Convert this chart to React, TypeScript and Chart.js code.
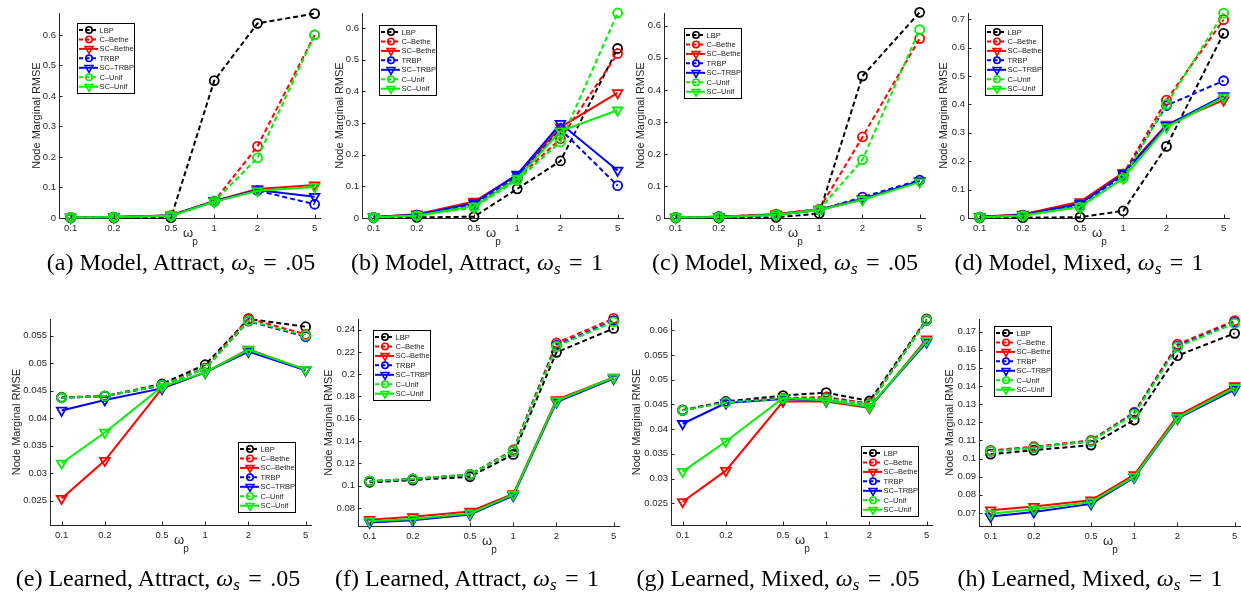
import React, { useEffect, useRef } from "react";
import { Chart, registerables } from "chart.js";
Chart.register(...registerables);

// ---------- data ----------
const omegaP = [0.1, 0.2, 0.5, 1, 2, 5];
const xTickLabels = ["0.1", "0.2", "0.5", "1", "2", "5"];
const seriesNames = ["LBP", "C\u2013Bethe", "SC\u2013Bethe", "TRBP", "SC\u2013TRBP", "C\u2013Unif", "SC\u2013Unif"];

// rows: LBP, C-Bethe, SC-Bethe, TRBP, SC-TRBP, C-Unif, SC-Unif
const modelAttract05 = [
  [0.0005, 0.0005, 0.001, 0.45, 0.638, 0.67],
  [0.002, 0.003, 0.008, 0.055, 0.235, 0.6],
  [0.002, 0.003, 0.009, 0.056, 0.095, 0.108],
  [0.002, 0.003, 0.007, 0.054, 0.09, 0.045],
  [0.002, 0.003, 0.008, 0.055, 0.092, 0.07],
  [0.002, 0.003, 0.007, 0.054, 0.197, 0.6],
  [0.002, 0.003, 0.007, 0.053, 0.089, 0.102],
];
const modelAttract1 = [
  [0.001, 0.002, 0.004, 0.092, 0.18, 0.535],
  [0.002, 0.01, 0.045, 0.125, 0.25, 0.519],
  [0.003, 0.012, 0.052, 0.135, 0.287, 0.395],
  [0.002, 0.008, 0.04, 0.13, 0.28, 0.102],
  [0.003, 0.01, 0.047, 0.138, 0.298, 0.15],
  [0.002, 0.007, 0.033, 0.119, 0.24, 0.647],
  [0.002, 0.008, 0.037, 0.125, 0.274, 0.34],
];
const modelMixed05 = [
  [0.0005, 0.0005, 0.002, 0.014, 0.443, 0.642],
  [0.002, 0.004, 0.012, 0.028, 0.253, 0.56],
  [0.002, 0.004, 0.012, 0.027, 0.06, 0.115],
  [0.002, 0.004, 0.01, 0.025, 0.065, 0.118],
  [0.002, 0.003, 0.01, 0.025, 0.058, 0.115],
  [0.002, 0.003, 0.01, 0.026, 0.182, 0.588],
  [0.002, 0.003, 0.009, 0.025, 0.057, 0.112],
];
const modelMixed1 = [
  [0.0005, 0.001, 0.003, 0.025, 0.252, 0.65],
  [0.003, 0.01, 0.05, 0.155, 0.415, 0.698],
  [0.004, 0.013, 0.057, 0.16, 0.329, 0.415],
  [0.003, 0.01, 0.045, 0.15, 0.396, 0.483],
  [0.004, 0.011, 0.05, 0.155, 0.325, 0.43],
  [0.003, 0.008, 0.038, 0.14, 0.4, 0.721],
  [0.003, 0.009, 0.04, 0.14, 0.32, 0.425],
];
const learnedAttract05 = [
  [0.0438, 0.044, 0.0462, 0.0497, 0.058, 0.0566],
  [0.0437, 0.044, 0.046, 0.0491, 0.0581, 0.0552],
  [0.0254, 0.0323, 0.0454, 0.0483, 0.0525, 0.0488],
  [0.0437, 0.044, 0.0459, 0.049, 0.0576, 0.0548],
  [0.0414, 0.0433, 0.0454, 0.0483, 0.0521, 0.0487],
  [0.0437, 0.044, 0.046, 0.049, 0.0577, 0.055],
  [0.0318, 0.0374, 0.0457, 0.0483, 0.0524, 0.0488],
];
const learnedAttract1 = [
  [0.103, 0.105, 0.108, 0.128, 0.2196, 0.241],
  [0.104, 0.106, 0.11, 0.132, 0.228, 0.25],
  [0.0695, 0.072, 0.0768, 0.0925, 0.177, 0.197],
  [0.104, 0.106, 0.11, 0.131, 0.226, 0.248],
  [0.067, 0.069, 0.074, 0.091, 0.175, 0.196],
  [0.104, 0.106, 0.11, 0.131, 0.225, 0.247],
  [0.068, 0.07, 0.075, 0.092, 0.176, 0.197],
];
const learnedMixed05 = [
  [0.0439, 0.0456, 0.0468, 0.0474, 0.0457, 0.0623],
  [0.0438, 0.0455, 0.0463, 0.0465, 0.0452, 0.0622],
  [0.0253, 0.0316, 0.0456, 0.0456, 0.0443, 0.0582],
  [0.0438, 0.0455, 0.0462, 0.0463, 0.045, 0.062],
  [0.0411, 0.0453, 0.0461, 0.0458, 0.0445, 0.0576],
  [0.0438, 0.0454, 0.0462, 0.0462, 0.045, 0.0621],
  [0.0314, 0.0375, 0.0463, 0.0458, 0.0445, 0.0579],
];
const learnedMixed1 = [
  [0.1024, 0.1046, 0.1074, 0.1212, 0.1567, 0.169],
  [0.1045, 0.1065, 0.11, 0.1255, 0.163, 0.176],
  [0.0715, 0.0735, 0.077, 0.091, 0.1235, 0.14],
  [0.104, 0.106, 0.1095, 0.125, 0.162, 0.175],
  [0.068, 0.0705, 0.075, 0.0895, 0.122, 0.138],
  [0.104, 0.106, 0.1095, 0.1245, 0.1615, 0.1745],
  [0.0695, 0.072, 0.076, 0.09, 0.1225, 0.139],
];

const yTicksModel6 = [0, 0.1, 0.2, 0.3, 0.4, 0.5, 0.6];
const yTicksModel7 = [0, 0.1, 0.2, 0.3, 0.4, 0.5, 0.6, 0.7];
const yTicksLearnedAttract05 = [0.025, 0.03, 0.035, 0.04, 0.045, 0.05, 0.055];
const yTicksLearnedAttract1 = [0.08, 0.1, 0.12, 0.14, 0.16, 0.18, 0.2, 0.22, 0.24];
const yTicksLearnedMixed05 = [0.025, 0.03, 0.035, 0.04, 0.045, 0.05, 0.055, 0.06];
const yTicksLearnedMixed1 = [0.07, 0.08, 0.09, 0.1, 0.11, 0.12, 0.13, 0.14, 0.15, 0.16, 0.17];

// ---------- styles ----------
const seriesColors = ["#000000", "#ff0000", "#ff0000", "#0000ff", "#0000ff", "#00ee00", "#00ee00"];
const seriesDashed = [true, true, false, true, false, true, false];
const seriesTriangle = [false, false, true, false, true, false, true];

const X_MIN = 0.083;
const X_MAX = 5.45;
const PAD_L = 50;
const PAD_T = 12;
const PAD_R = 12;
const PAD_B = 40;

type Panel = {
  tag: string;
  title: string;
  ws: string;
  series: number[][];
  yTicks: number[];
  yMin: number;
  yMax: number;
  box: [number, number, number, number];
  legend: { corner: "tl" | "br"; dx: number; dy: number };
  yTitleGap: number;
  capX: number;
  capY: number;
};

const panels: Panel[] = [
  { tag: "(a)", title: "Model, Attract,", ws: ".05", series: modelAttract05, yTicks: yTicksModel6, yMin: 0, yMax: 0.672, box: [59, 13, 320, 218], legend: { corner: "tl", dx: 18, dy: 10 }, yTitleGap: 22, capX: 181, capY: 262 },
  { tag: "(b)", title: "Model, Attract,", ws: "1", series: modelAttract1, yTicks: yTicksModel6, yMin: 0, yMax: 0.647, box: [362, 13, 623, 218], legend: { corner: "tl", dx: 17, dy: 12 }, yTitleGap: 22, capX: 477, capY: 262 },
  { tag: "(c)", title: "Model, Mixed,", ws: ".05", series: modelMixed05, yTicks: yTicksModel6, yMin: 0, yMax: 0.64, box: [664, 13, 925, 218], legend: { corner: "tl", dx: 20, dy: 15 }, yTitleGap: 23, capX: 785, capY: 262 },
  { tag: "(d)", title: "Model, Mixed,", ws: "1", series: modelMixed1, yTicks: yTicksModel7, yMin: 0, yMax: 0.7215, box: [968, 13, 1229, 218], legend: { corner: "tl", dx: 17, dy: 12 }, yTitleGap: 24, capX: 1079, capY: 262 },
  { tag: "(e)", title: "Learned, Attract,", ws: ".05", series: learnedAttract05, yTicks: yTicksLearnedAttract05, yMin: 0.0206, yMax: 0.058, box: [50, 319, 311, 525], legend: { corner: "br", dx: 16, dy: 13 }, yTitleGap: 33, capX: 158, capY: 578 },
  { tag: "(f)", title: "Learned, Attract,", ws: "1", series: learnedAttract1, yTicks: yTicksLearnedAttract1, yMin: 0.0638, yMax: 0.2495, box: [358, 319, 619, 526], legend: { corner: "tl", dx: 15, dy: 11 }, yTitleGap: 29, capX: 467, capY: 578 },
  { tag: "(g)", title: "Learned, Mixed,", ws: ".05", series: learnedMixed05, yTicks: yTicksLearnedMixed05, yMin: 0.0206, yMax: 0.0623, box: [671, 319, 932, 525], legend: { corner: "br", dx: 14, dy: 9 }, yTitleGap: 34, capX: 778, capY: 578 },
  { tag: "(h)", title: "Learned, Mixed,", ws: "1", series: learnedMixed1, yTicks: yTicksLearnedMixed1, yMin: 0.0628, yMax: 0.1769, box: [979, 319, 1240, 526], legend: { corner: "tl", dx: 15, dy: 7 }, yTitleGap: 29, capX: 1090, capY: 578 },
];

const AXIS_COLOR = "#262626";
const TEXT_COLOR = "#262626";
const SANS = "'Liberation Sans', Arial, Helvetica, sans-serif";

function drawMarker(ctx: CanvasRenderingContext2D, tri: boolean, x: number, y: number, r: number) {
  ctx.beginPath();
  if (tri) {
    let rad = Math.PI;
    const step = (2 * Math.PI) / 3;
    ctx.moveTo(x + Math.sin(rad) * r, y - Math.cos(rad) * r);
    rad += step;
    ctx.lineTo(x + Math.sin(rad) * r, y - Math.cos(rad) * r);
    rad += step;
    ctx.lineTo(x + Math.sin(rad) * r, y - Math.cos(rad) * r);
    ctx.closePath();
  } else {
    ctx.arc(x, y, r, 0, Math.PI * 2);
  }
  ctx.stroke();
}

function makeDecor(p: Panel) {
  return {
    id: "decor" + p.tag,
    afterDraw(chart: any) {
      const ctx: CanvasRenderingContext2D = chart.ctx;
      const area = chart.chartArea;
      const xs = chart.scales.x;
      const ys = chart.scales.y;
      ctx.save();
      // inward tick marks
      ctx.strokeStyle = AXIS_COLOR;
      ctx.lineWidth = 1;
      ctx.setLineDash([]);
      ctx.beginPath();
      for (const t of ys.ticks) {
        const py = Math.round(ys.getPixelForValue(t.value)) + 0.5;
        ctx.moveTo(area.left, py);
        ctx.lineTo(area.left + 3.5, py);
      }
      for (const t of xs.ticks) {
        const px = Math.round(xs.getPixelForValue(t.value)) + 0.5;
        ctx.moveTo(px, area.bottom);
        ctx.lineTo(px, area.bottom - 3.5);
      }
      ctx.stroke();

      // y-axis title
      ctx.fillStyle = TEXT_COLOR;
      ctx.font = `11px ${SANS}`;
      ctx.textAlign = "center";
      ctx.textBaseline = "middle";
      ctx.save();
      ctx.translate(area.left - p.yTitleGap, (area.top + area.bottom) / 2);
      ctx.rotate(-Math.PI / 2);
      ctx.fillText("Node Marginal RMSE", 0, 0);
      ctx.restore();

      // x-axis title: omega_p
      const cx = (area.left + area.right) / 2;
      ctx.font = `13px ${SANS}`;
      ctx.fillText("\u03c9", cx - 1.5, area.bottom + 15.5);
      ctx.font = `10px ${SANS}`;
      ctx.fillText("p", cx + 5.5, area.bottom + 24.5);

      // legend box
      const W = 57;
      const H = 70;
      let bx: number, by: number;
      if (p.legend.corner === "tl") {
        bx = area.left + p.legend.dx;
        by = area.top + p.legend.dy;
      } else {
        bx = area.right - p.legend.dx - W;
        by = area.bottom - p.legend.dy - H;
      }
      bx = Math.round(bx) + 0.5;
      by = Math.round(by) + 0.5;
      ctx.fillStyle = "#ffffff";
      ctx.fillRect(bx, by, W, H);
      ctx.strokeStyle = "#000000";
      ctx.lineWidth = 1;
      ctx.strokeRect(bx, by, W, H);
      chart.data.datasets.forEach((ds: any, i: number) => {
        const ry = by + 6.5 + i * 9.45;
        ctx.strokeStyle = ds.borderColor;
        ctx.lineWidth = 2;
        ctx.setLineDash(seriesDashed[i] ? [4, 2.5] : []);
        ctx.beginPath();
        ctx.moveTo(bx + 1.5, ry);
        ctx.lineTo(bx + 20.5, ry);
        ctx.stroke();
        ctx.setLineDash([]);
        ctx.lineWidth = 1.6;
        drawMarker(ctx, seriesTriangle[i], bx + 11.5, ry, seriesTriangle[i] ? 4.5 : 3.2);
        ctx.fillStyle = "#222";
        ctx.font = `7.5px ${SANS}`;
        ctx.textAlign = "left";
        ctx.textBaseline = "middle";
        ctx.fillText(ds.label, bx + 22, ry + 0.5);
      });
      ctx.restore();
    },
  };
}

function PanelChart({ p }: { p: Panel }) {
  const ref = useRef<HTMLCanvasElement | null>(null);
  const [l, t, r, b] = p.box;
  const width = r - l + PAD_L + PAD_R;
  const height = b - t + PAD_T + PAD_B;

  useEffect(() => {
    if (!ref.current) return;
    const datasets = p.series.map((vals, i) => ({
      label: seriesNames[i],
      data: omegaP.map((x, j) => ({ x, y: vals[j] })),
      borderColor: seriesColors[i],
      backgroundColor: "rgba(0,0,0,0)",
      borderWidth: 2,
      borderDash: seriesDashed[i] ? [5, 3] : [],
      pointStyle: seriesTriangle[i] ? "triangle" : "circle",
      pointRotation: seriesTriangle[i] ? 180 : 0,
      pointRadius: seriesTriangle[i] ? 5.5 : 4.5,
      pointBorderWidth: 1.8,
      pointBorderColor: seriesColors[i],
      pointBackgroundColor: "rgba(0,0,0,0)",
      tension: 0,
      clip: false,
      order: 6 - i,
    }));
    const chart = new Chart(ref.current, {
      type: "line",
      data: { datasets },
      plugins: [makeDecor(p)],
      options: {
        animation: false,
        responsive: false,
        devicePixelRatio: 1,
        layout: { padding: { top: PAD_T, right: PAD_R, left: 0, bottom: 0 } },
        plugins: { legend: { display: false }, tooltip: { enabled: false }, title: { display: false } },
        scales: {
          x: {
            type: "logarithmic",
            min: X_MIN,
            max: X_MAX,
            bounds: "data",
            grid: { display: false, drawTicks: false, tickLength: 0 },
            border: { display: true, color: AXIS_COLOR, width: 1 },
            ticks: {
              autoSkip: false,
              maxRotation: 0,
              padding: 5,
              color: TEXT_COLOR,
              font: { family: SANS, size: 9.5 },
              callback: (v: any) => {
                const idx = omegaP.indexOf(Number(v));
                return idx >= 0 ? xTickLabels[idx] : "";
              },
            },
            afterBuildTicks: (s: any) => {
              s.ticks = omegaP.map((v) => ({ value: v }));
            },
            afterFit: (s: any) => {
              s.height = PAD_B;
              s.paddingLeft = 0;
              s.paddingRight = 0;
            },
          },
          y: {
            type: "linear",
            min: p.yMin,
            max: p.yMax,
            bounds: "data",
            grid: { display: false, drawTicks: false, tickLength: 0 },
            border: { display: true, color: AXIS_COLOR, width: 1 },
            ticks: {
              padding: 3,
              color: TEXT_COLOR,
              font: { family: SANS, size: 9.5 },
              callback: (v: any) => String(Number(Number(v).toFixed(6))),
            },
            afterBuildTicks: (s: any) => {
              s.ticks = p.yTicks.map((v) => ({ value: v }));
            },
            afterFit: (s: any) => {
              s.width = PAD_L;
              s.paddingTop = 0;
              s.paddingBottom = 0;
            },
          },
        },
      } as any,
    });
    return () => chart.destroy();
  }, [p]);

  return (
    <canvas
      ref={ref}
      width={width}
      height={height}
      style={{ position: "absolute", left: l - PAD_L, top: t - PAD_T, width, height }}
    />
  );
}

function Caption({ p }: { p: Panel }) {
  return (
    <div
      style={{
        position: "absolute",
        left: p.capX,
        top: p.capY - 14,
        transform: "translateX(-50%)",
        whiteSpace: "nowrap",
        fontFamily: "'Liberation Serif', 'Times New Roman', serif",
        fontSize: 24,
        lineHeight: "28px",
        color: "#000",
      }}
    >
      {p.tag} {p.title}{" "}
      <i>{"\u03c9"}</i>
      <sub style={{ fontSize: 17, fontStyle: "italic", verticalAlign: "-4px", lineHeight: 0 }}>s</sub>
      <span style={{ margin: "0 0.35em" }}>=</span>
      {p.ws}
    </div>
  );
}

export default function App() {
  return (
    <div
      style={{
        position: "fixed",
        left: 0,
        top: 0,
        width: 1241,
        height: 595,
        overflow: "hidden",
        background: "#ffffff",
      }}
    >
      {panels.map((p) => (
        <React.Fragment key={p.tag}>
          <PanelChart p={p} />
          <Caption p={p} />
        </React.Fragment>
      ))}
    </div>
  );
}
